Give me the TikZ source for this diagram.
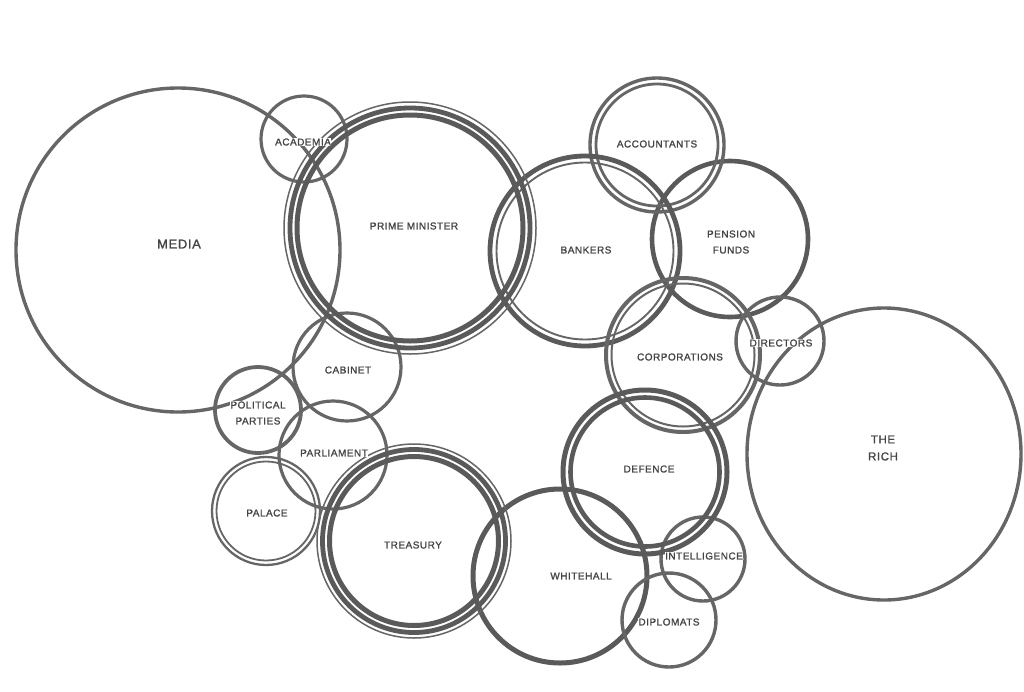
\documentclass[tikz,border=0pt]{standalone}
\usepackage{fontspec}
\newfontfamily\labfont[LetterSpace=5,FakeBold=1.2]{Liberation Sans}
\definecolor{ink}{HTML}{666666}
\definecolor{inkdark}{HTML}{5A5A5A}
\definecolor{txt}{HTML}{444444}
\begin{document}
\begin{tikzpicture}[x=1pt,y=-1pt,
  ring/.style={draw=ink,line width=#1},
  ring/.default=3pt,
  darkring/.style={draw=inkdark,line width=#1},
  lbl/.style={font=\fontsize{10}{16}\selectfont\labfont,text=txt,fill=white,inner sep=0.6pt,align=center},
  biglbl/.style={lbl,font=\fontsize{13}{15}\selectfont\labfont}]
\fill[white] (0,0) rectangle (1024,691);
\useasboundingbox (0,0) rectangle (1024,691);

% centres
\coordinate (media) at (178,250);
\coordinate (acad) at (304,139);
\coordinate (pm) at (410,228);
\coordinate (bank) at (585,251);
\coordinate (acc) at (657,145);
\coordinate (pens) at (730,239);
\coordinate (corp) at (683,355);
\coordinate (dir) at (780,341);
\coordinate (rich) at (884,454);
\coordinate (cab) at (347,367);
\coordinate (pol) at (258,410);
\coordinate (parl) at (333,455);
\coordinate (pal) at (266,511);
\coordinate (treas) at (414,541);
\coordinate (def) at (645,472);
\coordinate (white) at (560,576);
\coordinate (intel) at (703,559);
\coordinate (dipl) at (669,620);

% single rings
\draw[ring=3.4pt] (media) circle (162pt);
\draw[ring=3.2pt] (acad) circle (43pt);
\draw[ring=3.2pt] (cab) circle (54pt);
\draw[ring=3.8pt] (pol) circle (43pt);
\draw[ring=3.2pt] (parl) circle (54pt);
\draw[darkring=4.6pt] (pens) circle (78pt);
\draw[ring=3.4pt] (dir) circle (44pt);
\draw[ring=3.4pt] (rich) ellipse [x radius=137pt, y radius=146pt];
\draw[darkring=5pt] (white) circle (87pt);
\draw[ring=3.4pt] (intel) circle (42pt);
\draw[ring=3.4pt] (dipl) circle (47pt);

% double rings
\draw[ring=2.3pt] (pal) circle (54pt);
\draw[ring=1.8pt] (pal) circle (49.5pt);
\draw[ring=3.4pt] (acc) circle (67pt);
\draw[ring=2.8pt] (acc) circle (61pt);
\draw[darkring=4.8pt] (bank) circle (95pt);
\draw[ring=1.9pt] (bank) circle (88.5pt);
\draw[ring=4pt] (corp) circle (77pt);
\draw[ring=2pt] (corp) circle (71.5pt);
\draw[darkring=5pt] (def) circle (82pt);
\draw[darkring=4.6pt] (def) circle (74.5pt);

% triple rings
\draw[ring=1.5pt] (pm) circle (126pt);
\draw[darkring=4.8pt] (pm) circle (120pt);
\draw[darkring=5pt] (pm) circle (113pt);
\draw[ring=1.5pt] (treas) circle (97pt);
\draw[darkring=4.8pt] (treas) circle (91.5pt);
\draw[darkring=5pt] (treas) circle (84.5pt);

% labels
\node[biglbl] (lmedia) at (179,244) {MEDIA};
\node[lbl] (lacad) at (303,142) {ACADEMIA};
\node[lbl] (lpm) at (414,226) {PRIME MINISTER};
\node[lbl] (lbank) at (586,250) {BANKERS};
\node[lbl] (lacc) at (657,144) {ACCOUNTANTS};
\node[lbl] (lpens) at (731,242) {PENSION\\FUNDS};
\node[lbl] (lcorp) at (680,357) {CORPORATIONS};
\node[lbl] (ldir) at (781,343) {DIRECTORS};
\node[lbl,font=\fontsize{11.5}{17}\selectfont\labfont] (lrich) at (883,448) {THE\\RICH};
\node[lbl] (lcab) at (348,370) {CABINET};
\node[lbl] (lpol) at (258,413) {POLITICAL\\PARTIES};
\node[lbl] (lparl) at (334,453) {PARLIAMENT};
\node[lbl] (lpal) at (267,513) {PALACE};
\node[lbl] (ltreas) at (413,545) {TREASURY};
\node[lbl] (ldef) at (649,469) {DEFENCE};
\node[lbl] (lwhite) at (581,576) {WHITEHALL};
\node[lbl] (lintel) at (704,556) {INTELLIGENCE};
\node[lbl] (ldipl) at (669,622) {DIPLOMATS};
\end{tikzpicture}
\end{document}
